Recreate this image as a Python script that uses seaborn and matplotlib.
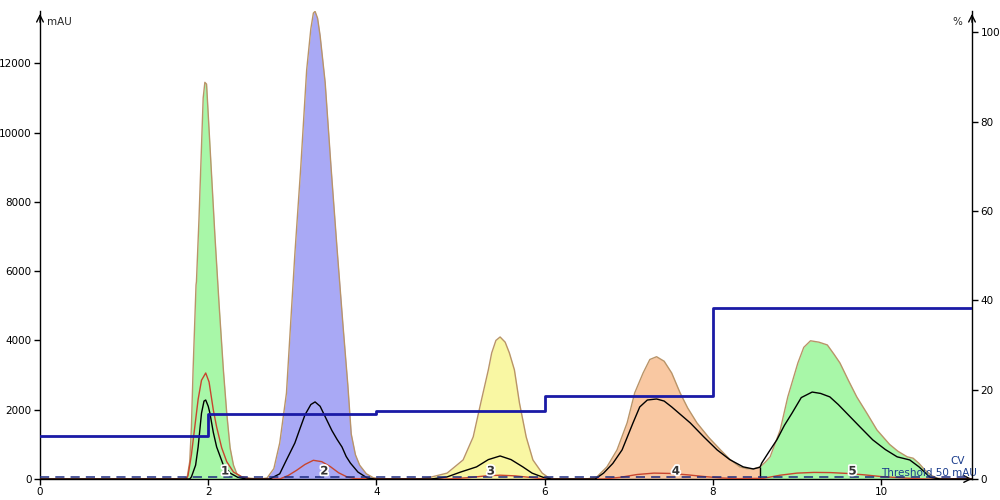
import numpy as np
import pandas as pd
import seaborn as sns
import matplotlib
matplotlib.use("Agg")
import matplotlib.pyplot as plt
import matplotlib.patheffects as pe

sns.set_style("white")
plt.rcParams['font.family'] = ['DejaVu Sans']

# ---------------- data ----------------
# UV absorbance (mAU), per peak
p1_x  = [1.70, 1.75, 1.78, 1.80, 1.82, 1.855, 1.86, 1.89, 1.94, 1.96, 1.98, 2.03, 2.08, 2.13, 2.18, 2.22, 2.26, 2.30, 2.34, 2.40, 2.50]
p1_uv = [0, 50, 500, 1500, 3150, 5600, 5700, 7500, 11000, 11450, 11400, 9200, 7000, 5000, 3150, 1900, 900, 400, 150, 60, 20]
p2_x  = [2.62, 2.70, 2.78, 2.85, 2.93, 2.98, 3.03, 3.10, 3.17, 3.22, 3.25, 3.27, 3.30, 3.33, 3.39, 3.46, 3.53, 3.60, 3.66, 3.70, 3.75, 3.80, 3.88, 3.96, 4.05]
p2_uv = [0, 30, 300, 1040, 2480, 4500, 6500, 9000, 11800, 13000, 13450, 13500, 13300, 12800, 11450, 9000, 6700, 4500, 2700, 1300, 700, 400, 150, 40, 0]
p3_x  = [4.50, 4.64, 4.84, 5.03, 5.15, 5.24, 5.33, 5.37, 5.42, 5.47, 5.53, 5.58, 5.64, 5.70, 5.78, 5.86, 5.97, 6.04, 6.10]
p3_uv = [0, 50, 170, 550, 1215, 2195, 3150, 3640, 4000, 4100, 3950, 3640, 3150, 2195, 1215, 550, 170, 50, 0]
p4_x  = [6.50, 6.62, 6.74, 6.86, 6.98, 7.07, 7.17, 7.25, 7.33, 7.42, 7.51, 7.61, 7.70, 7.81, 7.95, 8.09, 8.20, 8.32, 8.40, 8.48]
p4_uv = [0, 60, 350, 840, 1620, 2485, 3060, 3450, 3530, 3400, 3060, 2485, 2050, 1620, 1200, 840, 570, 350, 300, 290]
p5_x  = [8.56, 8.62, 8.68, 8.80, 8.89, 9.01, 9.08, 9.16, 9.26, 9.36, 9.44, 9.51, 9.61, 9.71, 9.83, 9.95, 10.10, 10.20, 10.31, 10.38, 10.45, 10.52, 10.60, 10.67, 10.80]
p5_uv = [350, 480, 640, 1416, 2370, 3350, 3800, 3990, 3950, 3870, 3600, 3350, 2850, 2370, 1900, 1416, 1000, 800, 640, 600, 450, 260, 100, 20, 0]

# second UV trace (black), per peak
b1_x = [1.78, 1.80, 1.85, 1.88, 1.92, 1.95, 1.97, 2.00, 2.02, 2.06, 2.10, 2.18, 2.26, 2.35, 2.45]
b1_y = [0, 60, 400, 925, 1900, 2250, 2280, 2100, 1900, 1350, 925, 400, 170, 50, 0]
b2_x = [2.73, 2.85, 2.93, 3.03, 3.09, 3.15, 3.22, 3.27, 3.33, 3.40, 3.47, 3.53, 3.59, 3.64, 3.69, 3.78, 3.89, 3.98]
b2_y = [0, 150, 550, 1040, 1450, 1850, 2150, 2225, 2100, 1750, 1400, 1150, 925, 650, 460, 200, 30, 0]
b3_x = [4.65, 4.84, 5.00, 5.19, 5.33, 5.47, 5.60, 5.74, 5.85, 5.98, 6.08]
b3_y = [0, 60, 200, 350, 560, 665, 560, 350, 170, 50, 0]
b4_x = [6.60, 6.70, 6.81, 6.92, 7.05, 7.13, 7.22, 7.33, 7.42, 7.51, 7.62, 7.73, 7.89, 8.05, 8.20, 8.36, 8.48]
b4_y = [0, 170, 450, 840, 1620, 2080, 2280, 2310, 2250, 2080, 1850, 1620, 1220, 840, 560, 350, 290]
b5_x = [8.56, 8.58, 8.67, 8.76, 8.85, 8.94, 9.05, 9.18, 9.28, 9.39, 9.49, 9.59, 9.75, 9.90, 10.05, 10.19, 10.34, 10.45, 10.58, 10.70]
b5_y = [340, 460, 800, 1130, 1550, 1900, 2350, 2510, 2470, 2370, 2150, 1900, 1500, 1130, 850, 640, 550, 350, 50, 0]

# third UV trace (red), per peak
r1_x = [1.74, 1.76, 1.80, 1.84, 1.88, 1.92, 1.97, 2.01, 2.06, 2.10, 2.16, 2.22, 2.30, 2.40, 2.50]
r1_y = [0, 100, 700, 1500, 2300, 2850, 3060, 2800, 2000, 1500, 900, 500, 200, 60, 0]
r2_x = [2.85, 2.95, 3.05, 3.15, 3.25, 3.35, 3.45, 3.55, 3.65, 3.75]
r2_y = [0, 100, 250, 420, 540, 500, 360, 180, 60, 10]
r3_x = [4.85, 5.10, 5.30, 5.47, 5.65, 5.85, 6.00]
r3_y = [0, 40, 90, 110, 90, 40, 0]
r4_x = [6.70, 6.90, 7.10, 7.30, 7.50, 7.70, 7.90, 8.10, 8.30]
r4_y = [0, 50, 130, 170, 160, 120, 70, 30, 10]
r5_x = [8.60, 8.80, 9.00, 9.20, 9.40, 9.60, 9.80, 10.00, 10.20, 10.40, 10.55]
r5_y = [20, 110, 170, 190, 185, 160, 120, 70, 40, 10, 0]

# gradient (%B) step line
grad_x = [0, 2, 4, 6, 8, 11.08]
grad_y = [9.6, 14.5, 15.3, 18.6, 38.3, 38.3]

# fractions (peak areas)
frac_start  = [1.70, 2.62, 4.50, 6.50, 8.56]
frac_end    = [2.50, 4.05, 6.10, 8.56, 10.80]
frac_colors = ["#a8f7a8", "#a9a9f5", "#f9f7a3", "#f9c8a2", "#a8f7a8"]
frac_labels = ["1", "2", "3", "4", "5"]
label_x     = [2.20, 3.38, 5.36, 7.56, 9.66]

x_ticks  = [0, 2, 4, 6, 8, 10]
y_ticks  = [0, 2000, 4000, 6000, 8000, 10000, 12000]
y2_ticks = [0, 20, 40, 60, 80, 100]
threshold = 50
XMAX, YMAX, Y2MAX = 11.08, 13510, 104.8

# ---------------- assemble continuous traces ----------------
uv_x = [0.0] + p1_x + p2_x + p3_x + p4_x + p5_x + [XMAX]
uv_y = [0.0] + p1_uv + p2_uv + p3_uv + p4_uv + p5_uv + [0.0]
bk_x = [0.0] + b1_x + b2_x + b3_x + b4_x + b5_x + [XMAX]
bk_y = [0.0] + b1_y + b2_y + b3_y + b4_y + b5_y + [0.0]
rd_x = [0.0] + r1_x + r2_x + r3_x + r4_x + r5_x + [XMAX]
rd_y = [0.0] + r1_y + r2_y + r3_y + r4_y + r5_y + [0.0]

fig = plt.figure(figsize=(10, 5), dpi=100)
ax = fig.add_axes([0.040, 0.042, 0.932, 0.936])
ax.set_xlim(0, XMAX)
ax.set_ylim(0, YMAX)

# filled fractions
for s, e, c in zip(frac_start, frac_end, frac_colors):
    xx = np.linspace(s, e, 300)
    yy = np.interp(xx, uv_x, uv_y)
    ax.fill_between(xx, 0, yy, color=c, lw=0, zorder=1)

# boundary line between fraction 4 and 5
ax.vlines(frac_start[4], 0, np.interp(frac_start[4], uv_x, uv_y), color="black", lw=1, zorder=3)

uv_col = "#b99468"
sns.lineplot(x=uv_x, y=uv_y, ax=ax, color=uv_col, lw=1.0, sort=False, estimator=None, zorder=3)
sns.lineplot(x=rd_x, y=rd_y, ax=ax, color="#c8452e", lw=1.0, sort=False, estimator=None, zorder=4)
sns.lineplot(x=bk_x, y=bk_y, ax=ax, color="black", lw=1.0, sort=False, estimator=None, zorder=5)

# threshold dashed line
ax.plot([0, XMAX], [threshold, threshold], color="#1c2a80", lw=1.1, ls=(0, (6, 4)), zorder=6)

# fraction labels
for lx, t in zip(label_x, frac_labels):
    ax.text(lx, 230, t, fontsize=8.5, fontweight="bold", color="#333333", ha="center", va="center",
            zorder=8, path_effects=[pe.withStroke(linewidth=2.5, foreground="white")])

ax.text(10.0, 170, "Threshold 50 mAU", fontsize=7.5, color="#1a3c8c", ha="left", va="center", zorder=8)

# axes styling
for sp in ["top", "right"]:
    ax.spines[sp].set_visible(False)
for sp in ["left", "bottom"]:
    ax.spines[sp].set_color("black")
    ax.spines[sp].set_linewidth(1.0)
ax.set_xticks(x_ticks)
ax.set_yticks(y_ticks)
ax.set_xticklabels([str(v) for v in x_ticks])
ax.set_yticklabels([str(v) for v in y_ticks])
ax.tick_params(axis="both", direction="out", length=4, width=1, labelsize=7.5, colors="black", pad=2,
               left=True, bottom=True)
ax.set_xlabel("")
ax.set_ylabel("")

# secondary axis (%)
ax2 = ax.twinx()
ax2.set_ylim(0, Y2MAX)
sns.lineplot(x=grad_x, y=grad_y, ax=ax2, color="#1a1aa6", lw=2.0, drawstyle="steps-post",
             sort=False, estimator=None, zorder=7)
for sp in ["top", "left", "bottom"]:
    ax2.spines[sp].set_visible(False)
ax2.spines["right"].set_color("black")
ax2.spines["right"].set_linewidth(1.0)
ax2.set_yticks(y2_ticks)
ax2.set_yticklabels([str(v) for v in y2_ticks])
ax2.tick_params(axis="y", direction="out", length=4, width=1, labelsize=7.5, colors="black", pad=2, right=True)
ax2.set_ylabel("")

# arrow heads on axes
arr = dict(arrowstyle="->", lw=1.0, color="black", mutation_scale=12)
ax.annotate("", xy=(0, 1.0), xytext=(0, 0.97), xycoords="axes fraction", arrowprops=arr)
ax.annotate("", xy=(1.0, 1.0), xytext=(1.0, 0.97), xycoords="axes fraction", arrowprops=arr)
ax.annotate("", xy=(1.003, 0), xytext=(0.975, 0), xycoords="axes fraction", arrowprops=arr)

fig.text(0.047, 1 - 22 / 500, "mAU", fontsize=7.5, ha="left", va="center")
fig.text(0.962, 1 - 22 / 500, "%", fontsize=7.5, ha="right", va="center")
fig.text(0.958, 1 - 461 / 500, "CV", fontsize=7.5, ha="center", va="center", color="#1a3c8c")

fig.savefig("out.png", dpi=100)
